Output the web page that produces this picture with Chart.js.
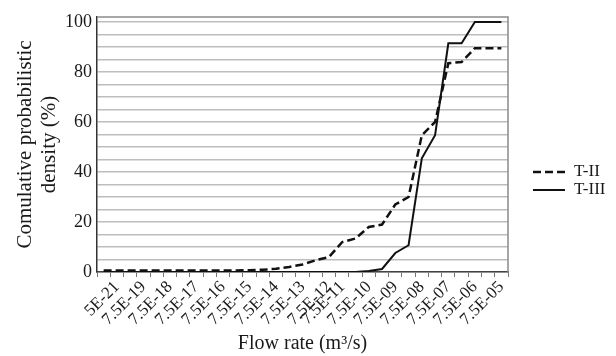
<!DOCTYPE html>
<html>
<head>
<meta charset="utf-8">
<script src="https://cdn.jsdelivr.net/npm/chart.js@4.4.0/dist/chart.umd.min.js"></script>
<style>
  html, body { margin: 0; padding: 0; background: #fff; }
</style>
</head>
<body>
<canvas id="chart" width="616" height="356"></canvas>
<script>
// Categorias de vazão (vazio = categoria sem rótulo)
const flowLabels = ["", "5E-21", "", "7.5E-19", "", "7.5E-18", "", "7.5E-17", "", "7.5E-16", "",
  "7.5E-15", "", "7.5E-14", "", "7.5E-13", "", "7.5E-12", "7.5E-11", "", "7.5E-10", "",
  "7.5E-09", "", "7.5E-08", "", "7.5E-07", "", "7.5E-06", "", "7.5E-05"];

// Séries (%)
const tII = [0.6, 0.6, 0.6, 0.6, 0.6, 0.6, 0.6, 0.6, 0.6, 0.6, 0.6, 0.7, 0.9, 1.3, 2, 3, 4.7, 6,
  12, 13.4, 18, 19, 27, 30, 54.7, 60, 83.5, 84, 89.5, 89.5, 89.5];
const tIII = [0, 0, 0, 0, 0, 0, 0, 0, 0, 0, 0, 0, 0, 0, 0, 0, 0, 0, 0, 0, 0.4, 1.2, 7.6, 10.7,
  45.5, 54.7, 91.5, 91.5, 100, 100, 100];

// Linhas de grade do eixo Y
const yTicks = [0, 5, 10, 15, 20, 25, 30, 35, 40, 45, 50, 55, 60, 65, 70, 75, 80, 85, 90, 95, 100];

const serif = "'Liberation Serif', 'Times New Roman', serif";
const ink = "#1a1a1a";

// Borda da área do gráfico (topo e direita)
const plotBorder = {
  id: "plotBorder",
  beforeDatasetsDraw(chart) {
    const { ctx, chartArea: a } = chart;
    ctx.save();
    ctx.strokeStyle = "#8a8a8a";
    ctx.lineWidth = 1.5;
    ctx.beginPath();
    ctx.moveTo(a.left, a.top);
    ctx.lineTo(a.right, a.top);
    ctx.lineTo(a.right, a.bottom);
    ctx.stroke();
    ctx.restore();
  },
};

// Legenda à direita
const sideLegend = {
  id: "sideLegend",
  afterDraw(chart) {
    const ctx = chart.ctx;
    const rows = [172, 190];
    chart.data.datasets.forEach((ds, i) => {
      const y = rows[i];
      ctx.save();
      ctx.strokeStyle = ds.borderColor;
      ctx.lineWidth = ds.borderWidth;
      ctx.setLineDash(ds.borderDash || []);
      ctx.beginPath();
      ctx.moveTo(533, y);
      ctx.lineTo(565, y);
      ctx.stroke();
      ctx.setLineDash([]);
      ctx.fillStyle = ink;
      ctx.font = "17px " + serif;
      ctx.textBaseline = "middle";
      ctx.fillText(ds.label, 574, y);
      ctx.restore();
    });
  },
};

const ctx = document.getElementById("chart").getContext("2d");
const chart = new Chart(ctx, {
  type: "line",
  data: {
    labels: flowLabels,
    datasets: [
      {
        label: "T-II",
        data: tII,
        borderColor: "#111",
        borderWidth: 2.5,
        borderDash: [8, 4],
        pointRadius: 0,
        tension: 0,
        fill: false,
      },
      {
        label: "T-III",
        data: tIII,
        borderColor: "#111",
        borderWidth: 2,
        pointRadius: 0,
        tension: 0,
        fill: false,
      },
    ],
  },
  options: {
    responsive: false,
    animation: false,
    layout: { padding: { top: 17, right: 108, left: 0, bottom: 0 } },
    plugins: {
      legend: { display: false },
      tooltip: { enabled: false },
    },
    scales: {
      x: {
        offset: true,
        grid: {
          offset: true,
          drawOnChartArea: false,
          drawTicks: true,
          tickLength: 5,
          color: "#777",
        },
        border: { color: "#444", width: 1.5 },
        ticks: {
          autoSkip: false,
          maxRotation: 45,
          minRotation: 45,
          padding: 0,
          color: ink,
          font: { family: serif, size: 17 },
        },
        title: {
          display: true,
          text: "Flow rate (m³/s)",
          color: ink,
          padding: 0,
          font: { family: serif, size: 20 },
        },
        afterFit: (s) => {
          s.height = 84;
        },
      },
      y: {
        min: 0,
        max: 102,
        afterBuildTicks: (s) => {
          s.ticks = yTicks.map((v) => ({ value: v }));
        },
        grid: { color: "#bdbdbd", lineWidth: 1.5, drawTicks: false },
        border: { color: "#333", width: 1.5 },
        ticks: {
          autoSkip: false,
          padding: 5,
          color: ink,
          font: { family: serif, size: 18 },
          callback: (v) => (v % 20 === 0 ? v : ""),
        },
        title: {
          display: true,
          text: ["Comulative probabilistic", "density (%)"],
          color: ink,
          padding: { top: 14, bottom: 0 },
          font: { family: serif, size: 21, lineHeight: 1.14 },
        },
        afterFit: (s) => {
          s.width = 97;
        },
      },
    },
  },
  plugins: [plotBorder, sideLegend],
});
</script>
</body>
</html>
